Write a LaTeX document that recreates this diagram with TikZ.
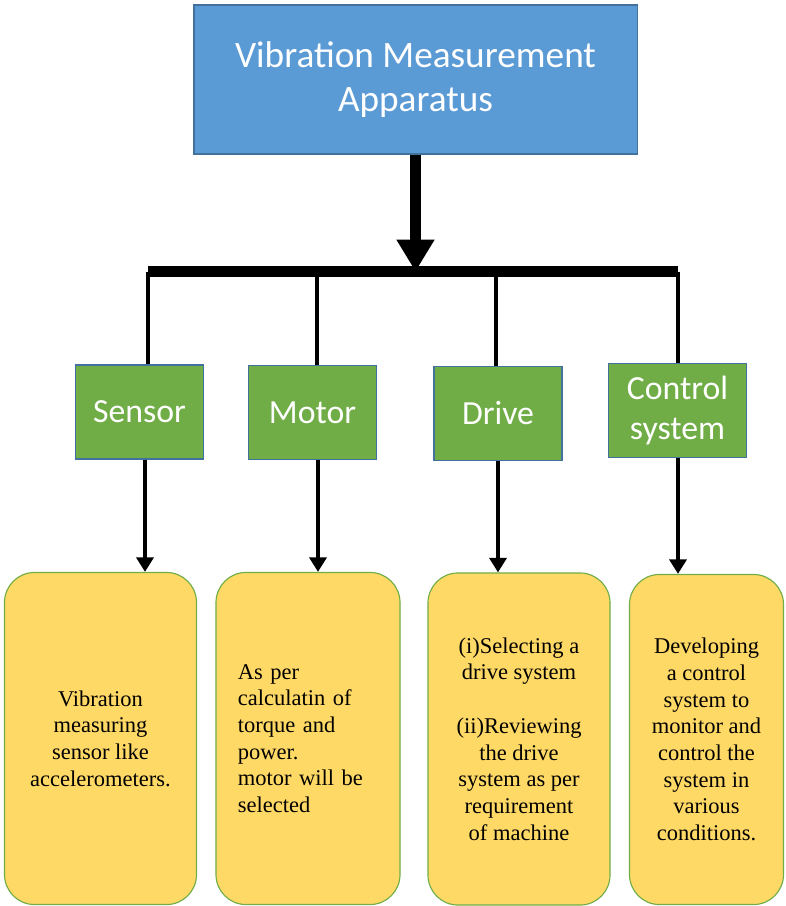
\documentclass[tikz,border=0pt]{standalone}
\usepackage{fontspec}
\setmainfont{Liberation Serif}
\newfontfamily\calibrifont{Carlito}
\usetikzlibrary{arrows.meta,positioning,calc}
\definecolor{officeblue}{RGB}{91,155,213}
\definecolor{blueedge}{RGB}{65,113,156}
\definecolor{officegreen}{RGB}{112,173,71}
\definecolor{officegold}{RGB}{255,217,102}

\begin{document}
\begin{tikzpicture}[x=0.025cm, y=-0.025cm, >=Triangle,
    head/.style={rectangle, draw=blueedge, thick, fill=officeblue, text=white, minimum width=11.075cm, minimum height=3.725cm, align=center, font=\calibrifont\fontsize{26.5}{31}\selectfont},
    part/.style={rectangle, draw=blueedge, thick, fill=officegreen, text=white, minimum width=3.2cm, minimum height=2.35cm, align=center, font=\calibrifont\fontsize{24}{28.5}\selectfont},
    note/.style={rectangle, rounded corners=0.75cm, draw=officegreen, thick, fill=officegold, minimum height=8.3cm, align=center, font=\fontsize{16}{19}\selectfont},
    main/.style={-{Triangle[width=0.9cm,length=0.8cm]}, line width=8.5pt},
    bar/.style={line width=8pt},
    branch/.style={line width=3pt},
    arrow/.style={-{Triangle[width=0.42cm,length=0.36cm]}, line width=3.5pt}]

    \useasboundingbox (0,0) rectangle (785,906);

    % Top level
    \node[head] (apparatus) at (415.5,79.5) {Vibration Measurement\\Apparatus};

    % Sub-systems
    \node[part] (sensor) at (139.5,412) {Sensor};
    \node[part] (motor) at (312.5,412.5) {Motor};
    \node[part] (drive) at (498,413.5) {Drive};
    \node[part, minimum width=3.45cm] (control) at (677.5,410.5) {Control\\system};

    % Details
    \node[note, minimum width=4.8cm] (sensornote) at (100.5,738.5) {Vibration\\measuring\\sensor like\\accelerometers.};
    \node[note, minimum width=4.6cm, text width=3.5cm, align=left] (motornote) at (308,738.5) {As per\\calculatin of\\torque and\\power.\\motor will be\\selected};
    \node[note, minimum width=4.55cm] (drivenote) at (519,739) {(i)Selecting a\\drive system\\[19pt](ii)Reviewing\\the drive\\system as per\\requirement\\of machine};
    \node[note, minimum width=3.85cm, minimum height=8.25cm] (controlnote) at (706.5,739.5) {Developing\\a control\\system to\\monitor and\\control the\\system in\\various\\conditions.};

    % Tree connectors
    \coordinate (hub) at ($(apparatus.south)+(0,117)$);
    \draw[main] (apparatus.south) -- (hub);
    \coordinate (sensortop) at ($(sensor.north)+(8.5,0)$);
    \coordinate (motortop) at ($(motor.north)+(4.5,0)$);
    \coordinate (drivetop) at ($(drive.north)+(-2,0)$);
    \coordinate (controltop) at ($(control.north)+(0.5,0)$);
    \draw[bar] (sensortop |- hub) -- (controltop |- hub);
    \foreach \p in {sensor,motor,drive,control}
        \draw[branch] (\p top |- hub) -- (\p top);

    % Downward arrows
    \foreach \p/\dx in {sensor/5.5,motor/5.5,drive/0,control/0.5}
        \draw[arrow] ($(\p.south)+(\dx,0)$) -- ($(\p.south |- \p note.north)+(\dx,0)$);

\end{tikzpicture}
\end{document}
